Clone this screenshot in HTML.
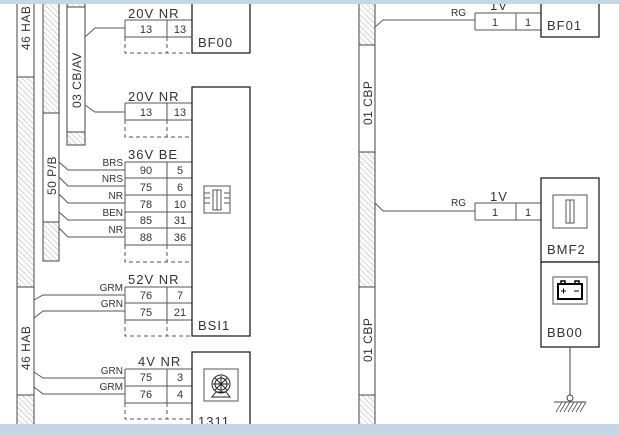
<!DOCTYPE html>
<html><head><style>body{margin:0;background:#fff}svg{display:block}text{font-family:"Liberation Sans",sans-serif;fill:#333}</style></head><body>
<svg width="619" height="435" viewBox="0 0 619 435" xmlns="http://www.w3.org/2000/svg">
<defs><pattern id="h" width="4" height="4" patternUnits="userSpaceOnUse" patternTransform="rotate(-45)"><line x1="0" y1="0" x2="0" y2="4" stroke="#999" stroke-width="0.8"/></pattern></defs>
<g stroke="#444" stroke-width="1">
<rect x="17" y="0" width="17" height="440" fill="url(#h)"/>
<rect x="17" y="-5" width="17" height="82" fill="#fff"/>
<rect x="17" y="287" width="17" height="108" fill="#fff"/>
<rect x="43" y="-5" width="16" height="266" fill="url(#h)"/>
<rect x="43" y="113" width="16" height="109" fill="#fff"/>
<rect x="67" y="-5" width="18" height="150" fill="url(#h)"/>
<rect x="67" y="7" width="18" height="125" fill="#fff"/>
<rect x="359" y="-5" width="16" height="445" fill="url(#h)"/>
<rect x="359" y="45" width="16" height="107" fill="#fff"/>
<rect x="359" y="287" width="16" height="108" fill="#fff"/>
</g>
<g font-size="12" letter-spacing="0.5">
<text transform="translate(30,50) rotate(-90)">46 HAB</text>
<text transform="translate(30,370) rotate(-90)">46 HAB</text>
<text transform="translate(56,195) rotate(-90)">50 P/B</text>
<text transform="translate(81,108) rotate(-90)">03 CB/AV</text>
<text transform="translate(372,125) rotate(-90)">01 CBP</text>
<text transform="translate(372,362) rotate(-90)">01 CBP</text>
</g>
<g stroke="#555" stroke-width="1" fill="none">
<polyline points="85,37 95,28 125,28"/>
<polyline points="85,105 95,112 125,112"/>
<polyline points="59,162 68,170 125,170"/>
<polyline points="59,177 68,186 125,186"/>
<polyline points="59,194 68,203 125,203"/>
<polyline points="59,212 68,220 125,220"/>
<polyline points="59,228 68,237 125,237"/>
<polyline points="34,300 43,295 125,295"/>
<polyline points="34,318 43,311 125,311"/>
<polyline points="34,372 43,378 125,378"/>
<polyline points="34,387 43,394 125,394"/>
<polyline points="375,27 383,20 475,20"/>
<polyline points="375,203 383,211 475,211"/>
<path d="M125,20H192M125,37H192M125,20V37M167,20V37"/>
<path d="M125,37V53H192M167,37V53" stroke-dasharray="4,3"/>
<path d="M125,103H192M125,120H192M125,103V120M167,103V120"/>
<path d="M125,120V137H192M167,120V137" stroke-dasharray="4,3"/>
<path d="M125,162H192M125,178H192M125,195H192M125,212H192M125,228H192M125,245H192M125,162V245M167,162V245"/>
<path d="M125,245V262H192M167,245V262" stroke-dasharray="4,3"/>
<path d="M125,287H192M125,303H192M125,320H192M125,287V320M167,287V320"/>
<path d="M125,320V336H192M167,320V336" stroke-dasharray="4,3"/>
<path d="M125,369H192M125,386H192M125,403H192M125,369V403M167,369V403"/>
<path d="M125,403V419H192M167,403V419" stroke-dasharray="4,3"/>
<path d="M475,13H541M475,30H541M475,13V30M516,13V30"/>
<path d="M475,203H541M475,220H541M475,203V220M516,203V220"/>
</g>
<g stroke="#111" stroke-width="1.2" fill="#fff">
<rect x="192" y="-5" width="58" height="58"/>
<rect x="192" y="87" width="58" height="249"/>
<rect x="192" y="352" width="58" height="90"/>
<rect x="541" y="-5" width="58" height="42"/>
<rect x="541" y="178" width="58" height="84"/>
<rect x="541" y="262" width="58" height="85"/>
</g>
<g stroke="#555" fill="none">
<rect x="204" y="186" width="26" height="27"/><rect x="213" y="190" width="8" height="20"/><line x1="217" y1="190" x2="217" y2="210"/>
<path d="M204,193h6M204,198h6M204,203h6M224,193h6M224,198h6M224,203h6"/>
<rect x="204" y="369" width="34" height="32"/>
<circle cx="221" cy="384" r="9" stroke="#222"/><circle cx="221" cy="384" r="6" stroke="#222"/>
<path d="M215,378l12,12M227,378l-12,12M221,376v16M213,384h16M212,397h18l-4,-5h-10z" stroke="#222"/>
<rect x="553" y="195" width="34" height="33"/><rect x="566" y="200" width="8" height="23"/><line x1="570" y1="200" x2="570" y2="223"/>
<rect x="553" y="277" width="34" height="27"/>
<rect x="558" y="284" width="24" height="15" stroke="#000" stroke-width="2"/>
<path d="M561,283v-2h4v2M575,283v-2h4v2" stroke="#000" stroke-width="1.5"/>
<path d="M561,291h5M563.5,288.5v5M574,291h5" stroke="#000"/>
<line x1="570" y1="347" x2="570" y2="395" stroke="#444"/>
<circle cx="570" cy="398" r="3" stroke="#444" fill="#fff"/>
<line x1="554" y1="402" x2="586" y2="402" stroke="#444"/>
<path d="M556,412l6,-10M560,412l6,-10M564,412l6,-10M568,412l6,-10M572,412l6,-10M576,412l6,-10M580,412l6,-10" stroke="#666"/>
</g>
<g font-size="13" letter-spacing="1">
<text x="128" y="18">20V NR</text>
<text x="128" y="101">20V NR</text>
<text x="128" y="159">36V BE</text>
<text x="128" y="284">52V NR</text>
<text x="138" y="366">4V NR</text>
<text x="198" y="47">BF00</text>
<text x="198" y="330">BSI1</text>
<text x="198" y="426">1311</text>
<text x="547" y="30">BF01</text>
<text x="547" y="254">BMF2</text>
<text x="547" y="337">BB00</text>
<text x="490" y="201">1V</text>
<text x="490" y="10">1V</text>
</g>
<g font-size="11" text-anchor="middle">
<text x="146" y="33">13</text><text x="180" y="33">13</text>
<text x="146" y="116">13</text><text x="180" y="116">13</text>
<text x="146" y="174">90</text><text x="180" y="174">5</text>
<text x="146" y="191">75</text><text x="180" y="191">6</text>
<text x="146" y="208">78</text><text x="180" y="208">10</text>
<text x="146" y="224">85</text><text x="180" y="224">31</text>
<text x="146" y="241">88</text><text x="180" y="241">36</text>
<text x="146" y="299">76</text><text x="180" y="299">7</text>
<text x="146" y="316">75</text><text x="180" y="316">21</text>
<text x="146" y="381">75</text><text x="180" y="381">3</text>
<text x="146" y="398">76</text><text x="180" y="398">4</text>
<text x="495" y="26">1</text><text x="528" y="26">1</text>
<text x="495" y="216">1</text><text x="528" y="216">1</text>
</g>
<g font-size="10" text-anchor="end">
<text x="123" y="166">BRS</text><text x="123" y="182">NRS</text><text x="123" y="199">NR</text><text x="123" y="216">BEN</text><text x="123" y="233">NR</text>
<text x="123" y="291">GRM</text><text x="123" y="307">GRN</text>
<text x="123" y="374">GRN</text><text x="123" y="390">GRM</text>
<text x="466" y="16">RG</text><text x="466" y="206">RG</text>
</g>
<rect x="0" y="0" width="619" height="4" fill="#c6d6e4"/>
<rect x="0" y="424" width="619" height="11" fill="#c6d6e4"/>
</svg>
</body></html>
